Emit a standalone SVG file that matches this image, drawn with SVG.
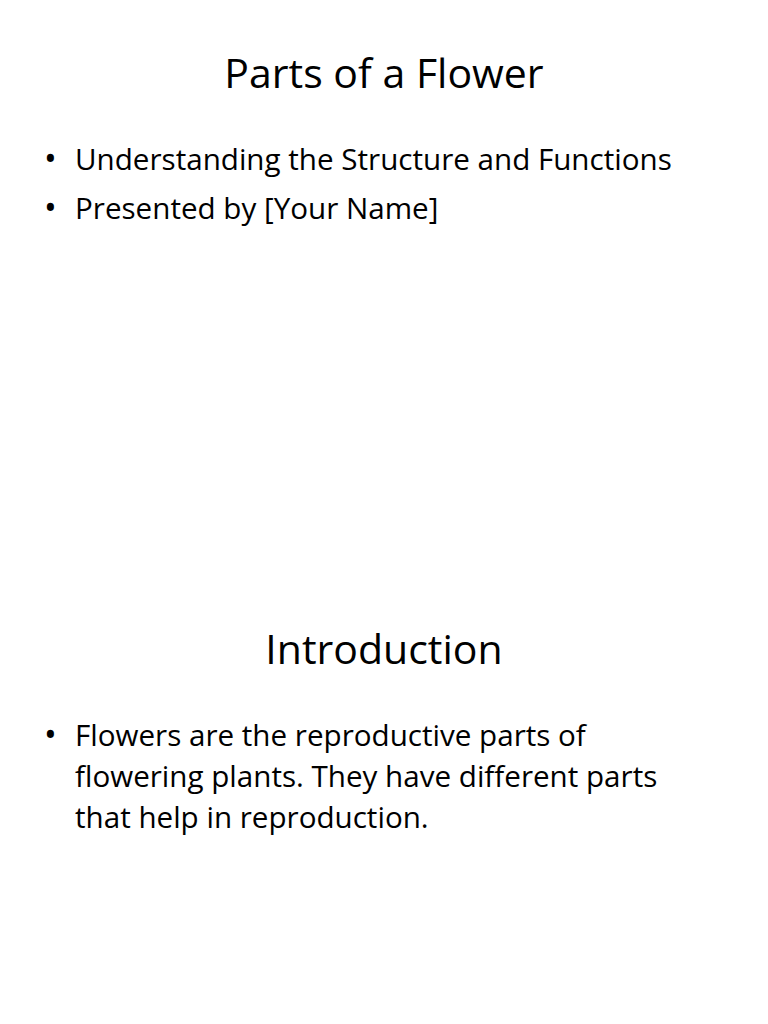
<svg xmlns="http://www.w3.org/2000/svg" width="768" height="1024" viewBox="0 0 768 1024">
<style>
text{font-family:"Open Sans","Noto Sans",sans-serif;fill:#000}
.t{font-size:41px;text-anchor:middle}
.b{font-size:29.6px}
.d{font-size:34px}
</style>
<rect width="768" height="1024" fill="#fff"/>
<g id="slide1">
<text class="t" x="384" y="88">Parts of a Flower</text>
<text class="d" x="44" y="171">•</text><text class="b" x="75" y="170">Understanding the Structure and Functions</text>
<text class="d" x="44" y="220">•</text><text class="b" x="75" y="219">Presented by [Your Name]</text>
</g>
<g id="slide2">
<text class="t" x="384" y="664">Introduction</text>
<text class="d" x="44" y="747">•</text><text class="b" x="75" y="746">Flowers are the reproductive parts of</text>
<text class="b" x="75" y="787">flowering plants. They have different parts</text>
<text class="b" x="75" y="828">that help in reproduction.</text>
</g>
</svg>
